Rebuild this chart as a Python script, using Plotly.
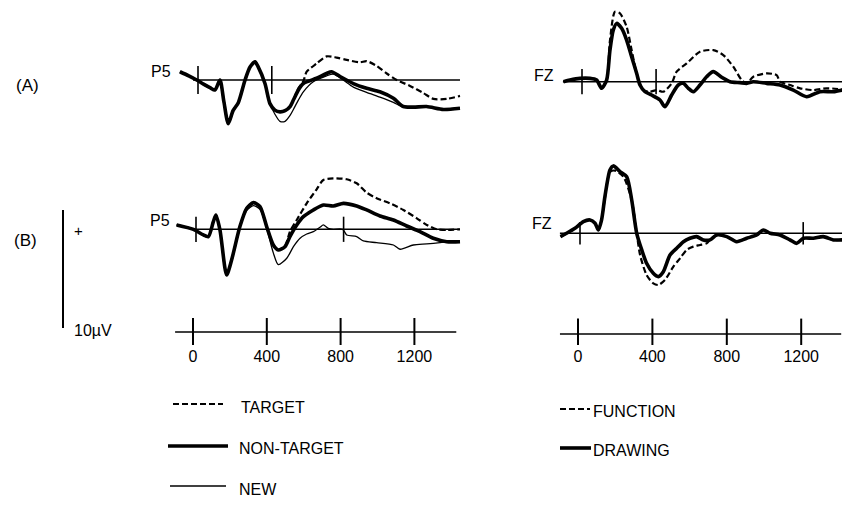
import plotly.graph_objects as go

# ---------------- DATA (ms, microvolts) ----------------
TICKS_MS = [0, 400, 800, 1200]
TICK_TEXT = ["0", "400", "800", "1200"]

# (A) P5
A_P5_NT_T = [-98, -50, -7, 30, 65, 92, 119, 140, 164, 190, 219, 255, 282, 309, 325, 363, 390, 417, 444, 472, 499, 517, 544, 571, 643, 697, 724, 770, 842, 914, 986, 1059, 1113, 1167, 1239, 1330, 1420]
A_P5_NT_V = [0.7, 0.35, 0.0, -0.35, -0.65, -0.85, 0.0, -1.8, -3.7, -2.6, -1.9, 0.0, 1.1, 1.55, 1.15, -0.3, -2.0, -2.55, -2.7, -2.6, -2.25, -1.7, -0.85, -0.3, 0.15, 0.55, 0.7, 0.3, -0.3, -0.7, -1.0, -1.55, -2.25, -2.3, -2.25, -2.5, -2.4]
A_P5_TG_T = [-98, -50, -7, 30, 65, 92, 119, 140, 164, 190, 219, 255, 282, 309, 325, 363, 390, 417, 444, 472, 499, 517, 544, 571, 589, 643, 697, 751, 806, 878, 914, 968, 1023, 1077, 1149, 1221, 1276, 1348, 1420]
A_P5_TG_V = [0.7, 0.35, 0.0, -0.35, -0.65, -0.85, 0.0, -1.8, -3.7, -2.6, -1.9, 0.0, 1.1, 1.55, 1.15, -0.3, -2.0, -2.55, -2.7, -2.6, -2.25, -1.7, -0.7, -0.1, 0.7, 1.4, 2.0, 1.9, 1.7, 1.5, 1.6, 1.2, 0.55, 0.0, -0.5, -1.1, -1.6, -1.6, -1.35]
A_P5_NW_T = [-98, -50, -7, 30, 65, 92, 119, 140, 164, 190, 219, 255, 282, 309, 325, 363, 390, 417, 444, 472, 499, 517, 544, 571, 625, 697, 733, 787, 842, 914, 986, 1059, 1113, 1167, 1239, 1330, 1420]
A_P5_NW_V = [0.7, 0.35, 0.0, -0.35, -0.65, -0.85, 0.0, -1.8, -3.7, -2.6, -1.9, 0.0, 1.1, 1.55, 1.15, -0.3, -2.0, -2.9, -3.5, -3.5, -3.0, -2.5, -1.7, -1.0, -0.15, 0.35, 0.5, 0.0, -0.6, -1.05, -1.45, -1.9, -2.3, -2.35, -2.3, -2.45, -2.35]

# (B) P5
B_P5_NT_T = [-105, -14, 40, 67, 94, 108, 130, 166, 193, 238, 275, 311, 347, 383, 419, 446, 482, 509, 546, 582, 636, 690, 744, 799, 871, 925, 997, 1070, 1142, 1214, 1286, 1359, 1431]
B_P5_NT_V = [0.37, 0.0, -0.48, -0.62, 0.65, 1.21, -0.06, -3.87, -2.6, 0.23, 1.78, 2.26, 1.92, 0.23, -1.33, -1.75, -1.47, -0.62, 0.37, 1.07, 1.64, 2.06, 1.98, 2.2, 1.98, 1.64, 1.13, 0.79, 0.28, -0.2, -0.76, -1.05, -1.05]
B_P5_TG_T = [-105, -14, 40, 67, 94, 108, 130, 166, 193, 238, 275, 311, 347, 383, 419, 446, 482, 509, 546, 600, 654, 690, 744, 817, 871, 925, 979, 1051, 1124, 1197, 1251, 1305, 1359, 1431]
B_P5_TG_V = [0.37, 0.0, -0.48, -0.62, 0.65, 1.21, -0.06, -3.87, -2.6, 0.23, 1.78, 2.26, 1.92, 0.23, -1.33, -1.75, -1.47, -0.2, 0.79, 2.2, 3.39, 4.18, 4.32, 4.24, 3.9, 3.11, 2.63, 2.2, 1.64, 0.93, 0.37, 0.0, -0.06, 0.0]
B_P5_NW_T = [-105, -14, 40, 67, 94, 108, 130, 166, 193, 238, 275, 311, 347, 383, 419, 446, 492, 528, 564, 600, 636, 672, 690, 717, 744, 795, 817, 871, 907, 979, 1070, 1106, 1178, 1251, 1323, 1395, 1431]
B_P5_NW_V = [0.37, 0.0, -0.48, -0.62, 0.65, 1.21, -0.06, -3.87, -2.6, 0.23, 1.6, 2.0, 1.7, 0.1, -2.0, -3.0, -2.45, -1.47, -0.76, -0.4, -0.2, 0.17, 0.37, 0.08, 0.0, 0.0, -0.48, -0.62, -0.99, -1.13, -1.33, -1.69, -1.33, -1.24, -1.13, -1.0, -1.0]

# (A) FZ
A_FZ_DR_T = [-100, -65, -11, 43, 79, 106, 133, 151, 169, 187, 214, 241, 268, 295, 313, 340, 376, 421, 448, 484, 520, 547, 574, 601, 637, 673, 709, 754, 799, 853, 889, 925, 997, 1069, 1141, 1213, 1285, 1357, 1404]
A_FZ_DR_V = [0.0, 0.14, 0.28, 0.28, 0.14, -0.56, 0.14, 2.68, 4.38, 4.94, 4.52, 3.53, 2.12, 0.71, -0.28, -0.85, -1.13, -1.55, -2.12, -1.13, -0.28, -0.14, -0.56, -0.85, -0.28, 0.42, 0.85, 0.37, 0.0, -0.08, -0.14, 0.0, -0.14, -0.28, -0.71, -1.27, -0.85, -0.85, -0.71]
A_FZ_FN_T = [-100, -65, -11, 43, 79, 106, 133, 151, 178, 205, 241, 268, 295, 331, 367, 403, 439, 484, 511, 565, 637, 709, 763, 817, 862, 889, 925, 997, 1051, 1069, 1123, 1177, 1249, 1321, 1404]
A_FZ_FN_V = [0.0, 0.14, 0.28, 0.28, 0.14, -0.56, 0.14, 3.5, 5.93, 5.79, 4.66, 2.68, 0.71, -0.71, -0.85, -0.71, -0.85, -0.14, 0.85, 1.55, 2.54, 2.68, 2.26, 1.27, 0.14, -0.14, 0.42, 0.71, 0.56, 0.0, -0.28, -0.56, -0.71, -0.56, -0.65]

# (B) FZ
B_FZ_DR_T = [-105, -72, -27, 18, 54, 81, 99, 116, 134, 161, 179, 215, 251, 278, 305, 332, 358, 394, 421, 448, 484, 520, 556, 591, 627, 663, 699, 735, 789, 842, 896, 950, 986, 1022, 1075, 1129, 1165, 1201, 1254, 1308, 1362, 1409]
B_FZ_DR_V = [-0.28, 0.0, 0.42, 0.99, 1.13, 0.85, 0.28, 1.13, 3.11, 5.37, 5.71, 5.23, 4.8, 2.82, 0.0, -1.41, -2.54, -3.39, -3.67, -3.25, -1.84, -1.27, -0.71, -0.42, -0.28, -0.56, -0.56, -0.14, -0.28, -0.71, -0.42, -0.14, 0.28, 0.0, -0.14, -0.56, -0.85, -0.42, -0.42, -0.28, -0.56, -0.56]
B_FZ_FN_T = [-105, -72, -27, 18, 54, 81, 99, 116, 134, 161, 188, 233, 278, 305, 323, 358, 394, 421, 457, 502, 538, 573, 609, 645, 681, 699, 735, 789, 842, 896, 950, 986, 1022, 1075, 1129, 1165, 1201, 1254, 1308, 1362, 1409]
B_FZ_FN_V = [-0.28, 0.0, 0.42, 0.99, 1.13, 0.85, 0.28, 1.13, 3.0, 5.2, 5.31, 4.8, 2.82, 0.0, -1.84, -3.53, -4.24, -4.38, -3.95, -2.82, -2.12, -1.41, -1.13, -0.99, -0.85, -0.56, -0.14, -0.28, -0.71, -0.42, -0.14, 0.28, 0.0, -0.14, -0.56, -0.85, -0.42, -0.42, -0.28, -0.56, -0.56]

# baselines / in-panel time markers / scale bar
A_P5_BASE = [-27, 1420]
B_P5_BASE = [-16, 1430]
A_FZ_BASE = [-103, 1410]
B_FZ_BASE = [-108, 1410]
A_P5_MARKS = [0, 400]
B_P5_MARKS = [0, 800]
A_FZ_MARKS = [0, 400]
B_FZ_MARKS = [0, 1200]
LEFT_AXIS_SPAN = [-97, 1427]
RIGHT_AXIS_SPAN = [-97, 1415]
SCALE_UV = [0, 10]

# ---------------- LAYOUT helpers ----------------
W, H = 842, 514
FONT = "Liberation Sans, Arial, Helvetica, sans-serif"
PX_PER_UV = 11.8


def xspan(x0, k, left, right):
    return dict(domain=[left / W, right / W], range=[(left - x0) / k, (right - x0) / k])


def yspan(y0, k, top, bottom):
    return dict(domain=[1 - bottom / H, 1 - top / H], range=[(y0 - bottom) / k, (y0 - top) / k])


hidden = dict(visible=False, showgrid=False, zeroline=False, fixedrange=True)

fig = go.Figure()

panels = {
    # name: (axis index, x0 px, px/ms, left, right, baseline py, top, bottom)
    "AP5": (1, 198, 0.1845, 140, 470, 80.0, 0, 150),
    "BP5": (2, 196, 0.1845, 140, 470, 229.3, 150, 300),
    "AFZ": (3, 582, 0.1852, 540, 842, 81.7, 0, 150),
    "BFZ": (4, 580, 0.186, 540, 842, 233.3, 150, 300),
}

layout_axes = {}
for name, (i, x0, k, l, r, y0, t, b) in panels.items():
    sx = "" if i == 1 else str(i)
    xa = dict(hidden, **xspan(x0, k, l, r), anchor="y" + sx)
    ya = dict(hidden, **yspan(y0, PX_PER_UV, t, b), anchor="x" + sx)
    layout_axes["xaxis" + sx] = xa
    layout_axes["yaxis" + sx] = ya


def ref(i):
    return ("x" if i == 1 else "x%d" % i), ("y" if i == 1 else "y%d" % i)


def add_line(i, t, v, width, dash=None, shape="spline"):
    xr, yr = ref(i)
    fig.add_trace(go.Scatter(x=t, y=v, xaxis=xr, yaxis=yr, mode="lines",
                             line=dict(color="black", width=width, dash=dash,
                                       shape=shape, smoothing=0.7),
                             showlegend=False, hoverinfo="skip"))


def add_base(i, span, marks, size):
    xr, yr = ref(i)
    fig.add_trace(go.Scatter(x=span, y=[0] * len(span), xaxis=xr, yaxis=yr, mode="lines",
                             line=dict(color="black", width=1.5),
                             showlegend=False, hoverinfo="skip"))
    fig.add_trace(go.Scatter(x=marks, y=[0] * len(marks), xaxis=xr, yaxis=yr, mode="markers",
                             marker=dict(symbol="line-ns", size=size,
                                         line=dict(color="black", width=1.6)),
                             showlegend=False, hoverinfo="skip"))


DASH = "6px,3px"
# (A) P5
add_base(1, A_P5_BASE, A_P5_MARKS, 20)
add_line(1, A_P5_NW_T, A_P5_NW_V, 1.3)
add_line(1, A_P5_TG_T, A_P5_TG_V, 2.2, DASH)
add_line(1, A_P5_NT_T, A_P5_NT_V, 3.6)
# (B) P5
add_base(2, B_P5_BASE, B_P5_MARKS, 18)
add_line(2, B_P5_NW_T, B_P5_NW_V, 1.3)
add_line(2, B_P5_TG_T, B_P5_TG_V, 2.2, DASH)
add_line(2, B_P5_NT_T, B_P5_NT_V, 3.6)
# (A) FZ
add_base(3, A_FZ_BASE, A_FZ_MARKS, 18)
add_line(3, A_FZ_FN_T, A_FZ_FN_V, 2.2, DASH)
add_line(3, A_FZ_DR_T, A_FZ_DR_V, 3.6)
# (B) FZ
add_base(4, B_FZ_BASE, B_FZ_MARKS, 16)
add_line(4, B_FZ_FN_T, B_FZ_FN_V, 2.2, DASH)
add_line(4, B_FZ_DR_T, B_FZ_DR_V, 3.6)

# time axes (5: left, 6: right)
tick_font = dict(family=FONT, size=16, color="black")
for i, x0, k, l, r, y0, span in [(5, 193, 0.1845, 140, 470, 332, LEFT_AXIS_SPAN),
                                 (6, 578, 0.186, 540, 842, 334, RIGHT_AXIS_SPAN)]:
    xa = dict(xspan(x0, k, l, r), anchor="y%d" % i, showgrid=False, zeroline=False,
              showline=False, ticks="", tickvals=TICKS_MS, ticktext=TICK_TEXT,
              tickfont=tick_font, fixedrange=True)
    ya = dict(hidden, **yspan(y0, 1.0, 318, 345), anchor="x%d" % i)
    layout_axes["xaxis%d" % i] = xa
    layout_axes["yaxis%d" % i] = ya
    xr, yr = "x%d" % i, "y%d" % i
    fig.add_trace(go.Scatter(x=span, y=[0, 0], xaxis=xr, yaxis=yr, mode="lines",
                             line=dict(color="black", width=1.5),
                             showlegend=False, hoverinfo="skip"))
    fig.add_trace(go.Scatter(x=TICKS_MS, y=[0] * len(TICKS_MS), xaxis=xr, yaxis=yr, mode="markers",
                             marker=dict(symbol="line-ns", size=22,
                                         line=dict(color="black", width=2)),
                             showlegend=False, hoverinfo="skip"))

# scale bar (axis 7, microvolts)
layout_axes["xaxis7"] = dict(hidden, domain=[38 / W, 88 / W], range=[-1, 1], anchor="y7")
layout_axes["yaxis7"] = dict(hidden, **yspan(328, PX_PER_UV, 200, 340), anchor="x7")
fig.add_trace(go.Scatter(x=[0, 0], y=SCALE_UV, xaxis="x7", yaxis="y7", mode="lines",
                         line=dict(color="black", width=2),
                         showlegend=False, hoverinfo="skip"))

# ---------------- text ----------------
def txt(s, x, y, anchor="center", size=16):
    return dict(text=s, x=x / W, y=1 - y / H, xref="paper", yref="paper", showarrow=False,
                xanchor=anchor, yanchor="middle",
                font=dict(family=FONT, size=size, color="black"))


annotations = [
    txt("(A)", 27, 86, size=17), txt("(B)", 25, 240, size=17),
    txt("P5", 161, 72), txt("P5", 160, 220),
    txt("FZ", 544, 75), txt("FZ", 542, 223),
    txt("+", 78, 231, size=15), txt("10µV", 72, 330, anchor="left"),
    txt("TARGET", 239, 407, anchor="left"),
    txt("NON-TARGET", 237, 448, anchor="left"),
    txt("NEW", 237, 489, anchor="left"),
    txt("FUNCTION", 591, 411, anchor="left"),
    txt("DRAWING", 591, 450, anchor="left"),
]


def seg(x1, x2, y, width, dash=None):
    return dict(type="line", xref="paper", yref="paper", x0=x1 / W, x1=x2 / W,
                y0=1 - y / H, y1=1 - y / H,
                line=dict(color="black", width=width, dash=dash))


shapes = [
    seg(173, 223, 404, 2.2, DASH),
    seg(168, 228, 446, 3.6),
    seg(170, 226, 486, 1.5),
    seg(560, 590, 409, 2.2, DASH),
    seg(560, 591, 448, 3.6),
]

fig.update_layout(
    width=W, height=H, margin=dict(l=0, r=0, t=0, b=0),
    paper_bgcolor="white", plot_bgcolor="rgba(0,0,0,0)",
    showlegend=False, annotations=annotations, shapes=shapes,
    **layout_axes,
)

fig.write_html("out.html", config={"displayModeBar": False},
               post_script="document.body.style.margin='0px';")
